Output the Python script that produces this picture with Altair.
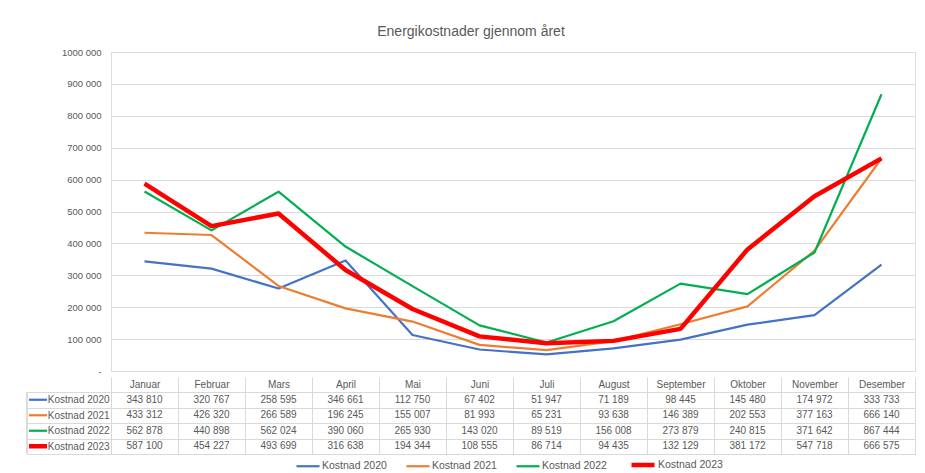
import altair as alt
import pandas as pd

months = ["Januar", "Februar", "Mars", "April", "Mai", "Juni", "Juli",
          "August", "September", "Oktober", "November", "Desember"]
series = ["Kostnad 2020", "Kostnad 2021", "Kostnad 2022", "Kostnad 2023"]
k2020 = [343810, 320767, 258595, 346661, 112750, 67402, 51947, 71189, 98445, 145480, 174972, 333733]
k2021 = [433312, 426320, 266589, 196245, 155007, 81993, 65231, 93638, 146389, 202553, 377163, 666140]
k2022 = [562878, 440898, 562024, 390060, 265930, 143020, 89519, 156008, 273879, 240815, 371642, 867444]
k2023 = [587100, 454227, 493699, 316638, 194344, 108555, 86714, 94435, 132129, 381172, 547718, 666575]
y_ticks = [0, 100000, 200000, 300000, 400000, 500000, 600000, 700000, 800000, 900000, 1000000]

colors = ["#4472C4", "#ED7D31", "#00B050", "#FF0000"]
widths = [2.2, 2.2, 2.2, 4.5]

rows = []
for s, vals in zip(series, [k2020, k2021, k2022, k2023]):
    for m, v in zip(months, vals):
        rows.append({"serie": s, "maned": m, "verdi": v})
df = pd.DataFrame(rows)
keys = pd.DataFrame({"serie": series})

FONT = "Liberation Sans"
GREY = "#595959"
LINE = "#D9D9D9"
W = 804


def make_legend():
    return alt.Legend(title=None, orient="none", direction="horizontal",
                      legendX=184, legendY=399,
                      symbolType="stroke", symbolSize=529,
                      labelFont=FONT, labelFontSize=10.5, labelColor=GREY,
                      labelOffset=1, columnPadding=15)


fmt_val = ("datum.verdi >= 1000 ? format(floor(datum.verdi/1000),'d') + ' ' + "
           "format(datum.verdi % 1000, '03d') : format(datum.verdi,'d')")
fmt_axis = ("datum.value == 0 ? '-' : (datum.value >= 1000 ? format(floor(datum.value/1000),'d') + ' ' + "
            "format(datum.value % 1000, '03d') : format(datum.value,'d'))")

color_enc = alt.Color("serie:N", scale=alt.Scale(domain=series, range=colors), legend=make_legend())
width_enc = alt.StrokeWidth("serie:N", scale=alt.Scale(type="ordinal", domain=series, range=widths),
                            legend=make_legend())

x_scale = alt.Scale(type="band", domain=months, paddingInner=0, paddingOuter=0)

lines = alt.Chart(df).mark_line(strokeJoin="round").encode(
    x=alt.X("maned:N", sort=months, scale=x_scale,
            axis=alt.Axis(title=None, labels=False, ticks=False, domain=True,
                          domainColor=LINE, grid=False, minExtent=0, maxExtent=0)),
    y=alt.Y("verdi:Q", scale=alt.Scale(domain=[0, 1000000], nice=False),
            axis=alt.Axis(title=None, values=y_ticks, labelExpr=fmt_axis, grid=True,
                          gridColor=LINE, ticks=False, domain=False, labelPadding=10,
                          labelFont=FONT, labelFontSize=9.5, labelColor=GREY)),
    color=color_enc,
    strokeWidth=width_enc,
).properties(width=W, height=319)

row_scale = alt.Scale(type="band", domain=series, paddingInner=0, paddingOuter=0)

cells = alt.Chart(df).transform_calculate(label=fmt_val).mark_text(
    font=FONT, fontSize=10, color=GREY
).encode(
    x=alt.X("maned:N", sort=months, scale=x_scale,
            axis=alt.Axis(orient="top", title=None, tickBand="extent", tickSize=15,
                          tickColor=LINE, domainColor=LINE, grid=True, gridColor=LINE,
                          labelPadding=-12, labelAngle=0, labelFont=FONT, labelFontSize=10,
                          labelColor=GREY, minExtent=15, maxExtent=15)),
    y=alt.Y("serie:N", sort=series, scale=row_scale,
            axis=alt.Axis(title=None, tickBand="extent", tickSize=84, tickColor=LINE,
                          grid=True, gridColor=LINE, domainColor=LINE, labelPadding=-82,
                          labelFont=FONT, labelFontSize=10, labelColor=GREY)),
    text="label:N",
)

key_marks = alt.Chart(keys).mark_rule(strokeCap="butt").encode(
    x=alt.value(-82), x2=alt.value(-64),
    y=alt.Y("serie:N", sort=series, scale=row_scale, bandPosition=0.5),
    color=color_enc,
    strokeWidth=width_enc,
)

left_border = alt.Chart(keys).mark_rule(color=LINE).encode(
    x=alt.value(-84), y=alt.value(0), y2=alt.value(62)
)

table = alt.layer(cells, key_marks, left_border).properties(
    width=W, height=62, view=alt.ViewBackground(stroke=LINE)
)

chart = alt.vconcat(lines, table, spacing=0).resolve_scale(
    color="shared", strokeWidth="shared"
).properties(
    title=alt.Title("Energikostnader gjennom året", font=FONT, fontSize=14,
                    fontWeight="normal", color=GREY, anchor="middle", offset=8),
    padding={"left": 18, "top": 16, "right": 0, "bottom": 0},
).configure_view(strokeWidth=0).configure(background="white")

chart.save("out.html", embed_options={"renderer": "svg", "actions": False})
